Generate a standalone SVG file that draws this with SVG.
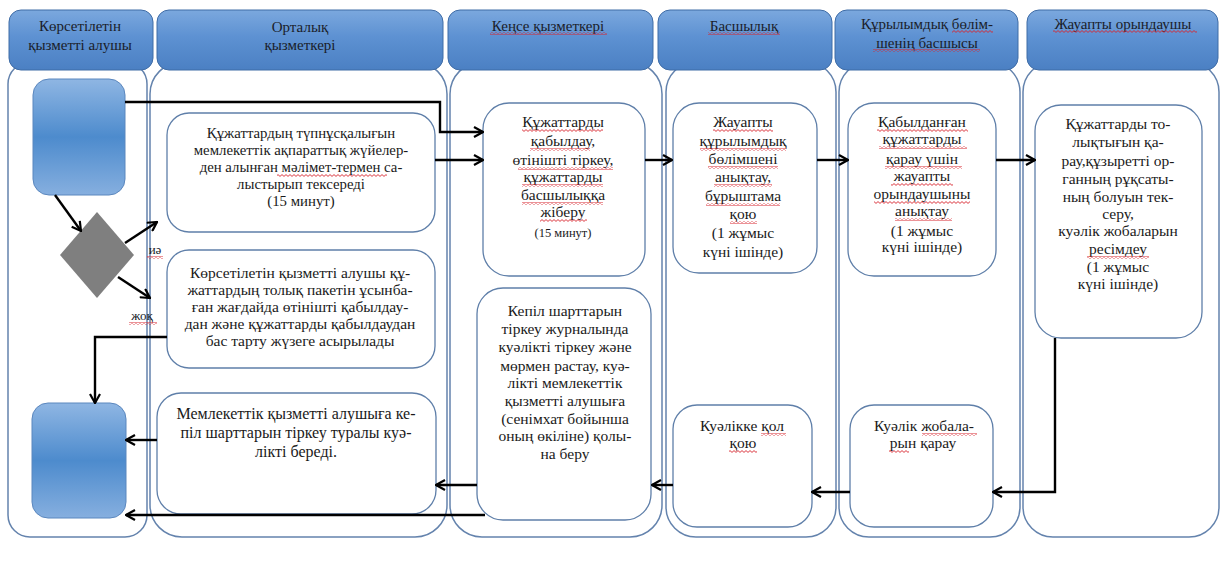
<svg xmlns="http://www.w3.org/2000/svg" width="1222" height="565" viewBox="0 0 1222 565">
<defs>
  <linearGradient id="hdr" x1="0" y1="0" x2="0" y2="1">
    <stop offset="0" stop-color="#7ba8de"/>
    <stop offset="0.45" stop-color="#5d91d2"/>
    <stop offset="1" stop-color="#4b80c3"/>
  </linearGradient>
  <linearGradient id="term" x1="0" y1="0" x2="0" y2="1">
    <stop offset="0" stop-color="#8fb6e3"/>
    <stop offset="0.5" stop-color="#4d8bcd"/>
    <stop offset="1" stop-color="#86afdf"/>
  </linearGradient>
  <pattern id="wave" width="4" height="3" patternUnits="userSpaceOnUse">
    <path d="M0 2.4 L2 0.6 L4 2.4" fill="none" stroke="#d8242c" stroke-width="0.9"/>
  </pattern>
  <marker id="ah" viewBox="0 0 12 12" refX="11" refY="6" markerWidth="12" markerHeight="12" markerUnits="userSpaceOnUse" orient="auto">
    <path d="M2 1 L11 6 L2 11" fill="none" stroke="#000" stroke-width="2.2"/>
  </marker>
  <style>
    .lane{fill:none;stroke:#6483ad;stroke-width:1.5}
    .hdr{fill:url(#hdr);stroke:#3f6ca6;stroke-width:1}
    .term{fill:url(#term);stroke:#5b87be;stroke-width:1}
    .box{fill:#fff;stroke:#5f7fa9;stroke-width:1.3}
    .dec{fill:#7f7f7f}
    .t{font-family:"Liberation Serif","Times New Roman",serif;font-size:15.5px;fill:#1a1a1a;text-anchor:middle}
    .h{font-family:"Liberation Serif","Times New Roman",serif;font-size:15px;fill:#1a1d2a;text-anchor:middle}
    .b1{font-size:14.8px}
    .b3{font-size:16px}
    .s{font-size:12.5px}
    .u{fill:url(#wave)}
    .c path{fill:none;stroke:#000;stroke-width:2.4;marker-end:url(#ah)}
  </style>
</defs>
<rect width="1222" height="565" fill="#fff"/>

<!-- swimlanes -->
<g id="lanes">
  <rect class="lane" x="8" y="62" width="139" height="475" rx="22"/>
  <rect class="lane" x="150" y="62" width="297" height="475" rx="32"/>
  <rect class="lane" x="450" y="62" width="212" height="475" rx="32"/>
  <rect class="lane" x="666" y="62" width="170" height="475" rx="30"/>
  <rect class="lane" x="839" y="62" width="181" height="475" rx="30"/>
  <rect class="lane" x="1023" y="62" width="196" height="475" rx="30"/>
</g>

<!-- lane headers -->
<g id="hdr1">
  <rect class="hdr" x="9" y="10" width="144" height="60" rx="12"/>
  <text class="h" x="80" y="31">Көрсетілетін</text>
  <text class="h" x="80" y="50">қызметті алушы</text>
</g>
<g id="hdr2">
  <rect class="hdr" x="157" y="10" width="286" height="60" rx="12"/>
  <text class="h" x="300" y="32">Орталық</text>
  <text class="h" x="300" y="50">қызметкері</text>
</g>
<g id="hdr3">
  <rect class="hdr" x="448" y="10" width="205" height="60" rx="12"/>
  <text class="h" x="548" y="31">Кеңсе қызметкері</text>
  <rect class="u" x="490" y="32" width="117" height="3"/>
</g>
<g id="hdr4">
  <rect class="hdr" x="658" y="10" width="174" height="60" rx="12"/>
  <text class="h" x="744" y="31">Басшылық</text>
  <rect class="u" x="708" y="32" width="72" height="3"/>
</g>
<g id="hdr5">
  <rect class="hdr" x="835" y="10" width="183" height="60" rx="12"/>
  <text class="h" x="927" y="29">Құрылымдық бөлім-</text>
  <text class="h" x="927" y="48">шенің басшысы</text>
  <rect class="u" x="952" y="30" width="41" height="3"/>
  <rect class="u" x="873" y="49" width="107" height="3"/>
</g>
<g id="hdr6">
  <rect class="hdr" x="1027" y="10" width="191" height="60" rx="12"/>
  <text class="h" x="1123" y="29">Жауапты орындаушы</text>
  <rect class="u" x="1053" y="30" width="144" height="3"/>
</g>

<!-- service recipient terminals and decision -->
<g id="start"><rect class="term" x="33" y="79" width="92" height="116" rx="16"/></g>
<g id="finish"><rect class="term" x="32" y="403" width="94" height="115" rx="16"/></g>
<g id="decision"><polygon class="dec" points="97,212 134,255 97,298 60,255"/></g>

<!-- central staff -->
<g id="check">
  <rect class="box" x="167" y="113" width="268" height="119" rx="22"/>
  <text class="t b1" x="301" y="138">Құжаттардың түпнұсқалығын</text>
  <text class="t b1" x="301" y="155">мемлекеттік ақпараттық жүйелер-</text>
  <text class="t b1" x="301" y="172">ден алынған мәлімет-термен са-</text>
  <text class="t b1" x="301" y="189">лыстырып тексереді</text>
  <text class="t b1" x="301" y="206">(15 минут)</text>
  <rect class="u" x="277" y="174" width="110" height="3"/>
</g>
<g id="refuse">
  <rect class="box" x="167" y="250" width="268" height="118" rx="22"/>
  <text class="t" x="300" y="278">Көрсетілетін қызметті алушы құ-</text>
  <text class="t" x="300" y="295">жаттардың толық пакетін ұсынба-</text>
  <text class="t" x="300" y="312">ған жағдайда өтінішті қабылдау-</text>
  <text class="t" x="300" y="329">дан және құжаттарды қабылдаудан</text>
  <text class="t" x="300" y="346">бас тарту жүзеге асырылады</text>
</g>
<g id="issue">
  <rect class="box" x="157" y="393" width="279" height="121" rx="24"/>
  <text class="t b3" x="296" y="419">Мемлекеттік қызметті алушыға ке-</text>
  <text class="t b3" x="296" y="438">піл шарттарын тіркеу туралы куә-</text>
  <text class="t b3" x="296" y="457">лікті береді.</text>
</g>

<!-- office clerk -->
<g id="register">
  <rect class="box" x="483" y="103" width="162" height="173" rx="26"/>
  <text class="t" x="563" y="127">Құжаттарды</text>
  <text class="t" x="563" y="146">қабылдау,</text>
  <text class="t" x="563" y="165">өтінішті тіркеу,</text>
  <text class="t" x="563" y="182">құжаттарды</text>
  <text class="t" x="563" y="200">басшылыққа</text>
  <text class="t" x="563" y="217">жіберу</text>
  <text class="t s" x="563" y="237">(15 минут)</text>
  <rect class="u" x="522" y="129" width="81" height="3"/>
  <rect class="u" x="530" y="148" width="60" height="3"/>
  <rect class="u" x="518" y="167" width="95" height="3"/>
  <rect class="u" x="522" y="184" width="81" height="3"/>
  <rect class="u" x="522" y="202" width="81" height="3"/>
  <rect class="u" x="540" y="219" width="47" height="3"/>
</g>
<g id="handover">
  <rect class="box" x="477" y="288" width="174" height="232" rx="26"/>
  <text class="t" x="565" y="316">Кепіл шарттарын</text>
  <text class="t" x="565" y="334">тіркеу журналында</text>
  <text class="t" x="565" y="352">куәлікті тіркеу және</text>
  <text class="t" x="565" y="371">мөрмен растау, куә-</text>
  <text class="t" x="565" y="388">лікті мемлекеттік</text>
  <text class="t" x="565" y="406">қызметті алушыға</text>
  <text class="t" x="565" y="424">(сенімхат бойынша</text>
  <text class="t" x="565" y="441">оның өкіліне) қолы-</text>
  <text class="t" x="565" y="459">на беру</text>
</g>

<!-- management -->
<g id="assign">
  <rect class="box" x="673" y="103" width="144" height="170" rx="26"/>
  <text class="t" x="743" y="127">Жауапты</text>
  <text class="t" x="743" y="146">құрылымдық</text>
  <text class="t" x="743" y="164">бөлімшені</text>
  <text class="t" x="743" y="182">анықтау,</text>
  <text class="t" x="743" y="201">бұрыштама</text>
  <text class="t" x="743" y="219">қою</text>
  <text class="t" x="743" y="238">(1 жұмыс</text>
  <text class="t" x="743" y="257">күні ішінде)</text>
  <rect class="u" x="713" y="129" width="60" height="3"/>
  <rect class="u" x="700" y="148" width="86" height="3"/>
  <rect class="u" x="708" y="166" width="70" height="3"/>
  <rect class="u" x="714" y="184" width="58" height="3"/>
  <rect class="u" x="706" y="203" width="74" height="3"/>
  <rect class="u" x="730" y="221" width="27" height="3"/>
</g>
<g id="sign">
  <rect class="box" x="673" y="405" width="139" height="122" rx="24"/>
  <text class="t" x="742" y="431">Куәлікке қол</text>
  <text class="t" x="743" y="448">қою</text>
  <rect class="u" x="761" y="433" width="25" height="3"/>
  <rect class="u" x="729" y="450" width="28" height="3"/>
</g>

<!-- head of structural unit -->
<g id="delegate">
  <rect class="box" x="848" y="103" width="148" height="173" rx="26"/>
  <text class="t" x="922" y="127">Қабылданған</text>
  <text class="t" x="922" y="144">құжаттарды</text>
  <text class="t" x="922" y="164">қарау үшін</text>
  <text class="t" x="922" y="181">жауапты</text>
  <text class="t" x="922" y="199">орындаушыны</text>
  <text class="t" x="922" y="216">анықтау</text>
  <text class="t" x="922" y="236">(1 жұмыс</text>
  <text class="t" x="922" y="252">күні ішінде)</text>
  <rect class="u" x="877" y="129" width="91" height="3"/>
  <rect class="u" x="879" y="146" width="88" height="3"/>
  <rect class="u" x="885" y="166" width="77" height="3"/>
  <rect class="u" x="891" y="183" width="62" height="3"/>
  <rect class="u" x="874" y="201" width="96" height="3"/>
  <rect class="u" x="895" y="218" width="57" height="3"/>
</g>
<g id="review">
  <rect class="box" x="850" y="405" width="143" height="122" rx="24"/>
  <text class="t" x="924" y="431">Куәлік жобала-</text>
  <text class="t" x="923" y="448">рын қарау</text>
  <rect class="u" x="922" y="433" width="55" height="3"/>
  <rect class="u" x="889" y="450" width="20" height="3"/>
</g>

<!-- responsible executor -->
<g id="draft">
  <rect class="box" x="1035" y="105" width="167" height="233" rx="26"/>
  <text class="t" x="1118" y="129">Құжаттарды то-</text>
  <text class="t" x="1118" y="147">лықтығын қа-</text>
  <text class="t" x="1118" y="166">рау,құзыретті ор-</text>
  <text class="t" x="1118" y="184">ганның рұқсаты-</text>
  <text class="t" x="1118" y="202">ның болуын тек-</text>
  <text class="t" x="1118" y="219">серу,</text>
  <text class="t" x="1118" y="236">куәлік жобаларын</text>
  <text class="t" x="1118" y="254">ресімдеу</text>
  <text class="t" x="1118" y="272">(1 жұмыс</text>
  <text class="t" x="1118" y="289">күні ішінде)</text>
  <rect class="u" x="1087" y="256" width="62" height="3"/>
</g>

<!-- decision labels -->
<g id="labels">
  <text class="h" x="155" y="254" style="font-size:13px">иә</text>
  <rect class="u" x="147" y="256" width="16" height="3"/>
  <text class="h" x="142" y="320" style="font-size:13px">жоқ</text>
  <rect class="u" x="129" y="322" width="28" height="3"/>
</g>

<!-- connectors -->
<g id="connectors" class="c">
  <path d="M55 195 L81 231"/>
  <path d="M125 243 L157 222"/>
  <path d="M118 277 L150 298"/>
  <path d="M125 102 H440 V132 H483"/>
  <path d="M435 160 H483"/>
  <path d="M645 160 H672"/>
  <path d="M817 160 H848"/>
  <path d="M996 160 H1035"/>
  <path d="M1055 338 V492 H993"/>
  <path d="M850 492 H812"/>
  <path d="M673 485 H652"/>
  <path d="M477 485 H436"/>
  <path d="M167 337 H95 V403"/>
  <path d="M157 440 H126"/>
  <path d="M485 515 H126"/>
</g>
</svg>
